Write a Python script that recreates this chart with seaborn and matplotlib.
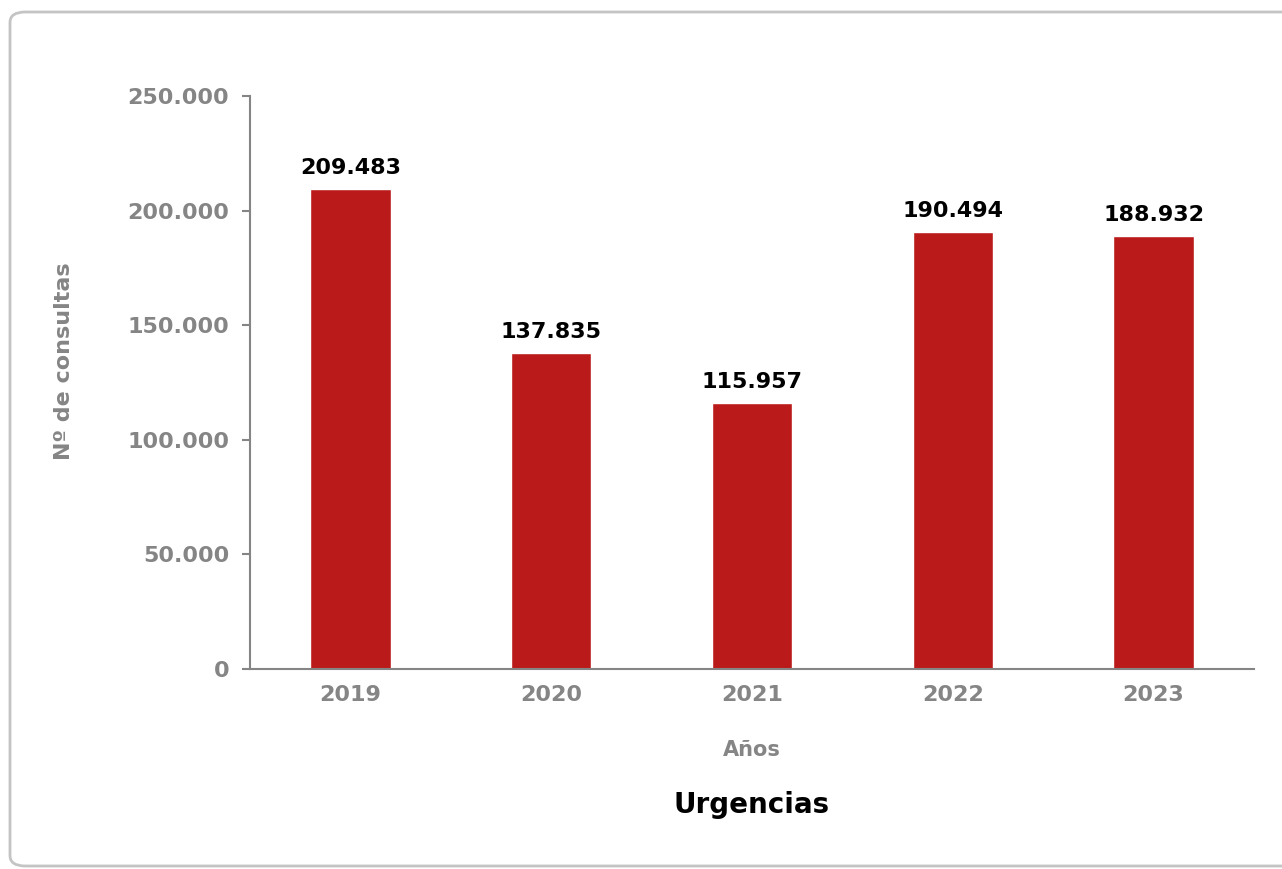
import matplotlib
matplotlib.use("Agg")
import matplotlib.pyplot as plt
from matplotlib.patches import FancyBboxPatch
from matplotlib.ticker import FuncFormatter
import seaborn as sns
import pandas as pd

# data
years = ["2019", "2020", "2021", "2022", "2023"]
consultas = [209483, 137835, 115957, 190494, 188932]
y_ticks = [0, 50000, 100000, 150000, 200000, 250000]

df = pd.DataFrame({"year": years, "consultas": consultas})

sns.set_style("white")
plt.rcParams["font.family"] = ["DejaVu Sans"]

GRAY = "#858585"
RED = "#BA1A1A"

def miles(v, pos=None):
    return f"{int(v):,}".replace(",", ".")

fig = plt.figure(figsize=(12.82, 8.69), dpi=100)
ax = fig.add_axes([250 / 1282, 1 - 669 / 869, 1004 / 1282, 573 / 869])

sns.barplot(data=df, x="year", y="consultas", color=RED, width=0.4,
            saturation=1, ax=ax)

ax.set_xlim(-0.5, 4.5)
ax.set_ylim(0, 250000)
ax.set_yticks(y_ticks)
ax.yaxis.set_major_formatter(FuncFormatter(miles))

for c in ax.containers:
    ax.bar_label(c, labels=[miles(v) for v in consultas], padding=8,
                 fontsize=16, fontweight="bold", color="black")

sns.despine(ax=ax)
for s in ["left", "bottom"]:
    ax.spines[s].set_color(GRAY)
    ax.spines[s].set_linewidth(1.5)

ax.tick_params(axis="y", left=True, length=6, width=1.5, color=GRAY,
               pad=9, labelsize=16, labelcolor=GRAY)
ax.tick_params(axis="x", bottom=False, pad=8, labelsize=16, labelcolor=GRAY)
for lbl in ax.get_xticklabels() + ax.get_yticklabels():
    lbl.set_fontweight("bold")

ax.set_ylabel("Nº de consultas", fontsize=16, fontweight="bold", color=GRAY)
ax.yaxis.set_label_coords(-0.175, 0.537)
ax.set_xlabel("Años", fontsize=15, fontweight="bold", color=GRAY)
ax.xaxis.set_label_coords(0.5, -0.124)

fig.text(752 / 1282, 1 - 805 / 869, "Urgencias", ha="center", va="center",
         fontsize=20, fontweight="bold", color="black")

# rounded frame around the chart (cut off on the right like the source)
frame = FancyBboxPatch((10 / 1282, 1 - 866 / 869), 1300 / 1282, 854 / 869,
                       boxstyle="round,pad=0,rounding_size=0.012",
                       transform=fig.transFigure, facecolor="none",
                       edgecolor="#c4c4c4", linewidth=2, clip_on=False)
fig.patches.append(frame)

fig.savefig("out.png", dpi=100)
